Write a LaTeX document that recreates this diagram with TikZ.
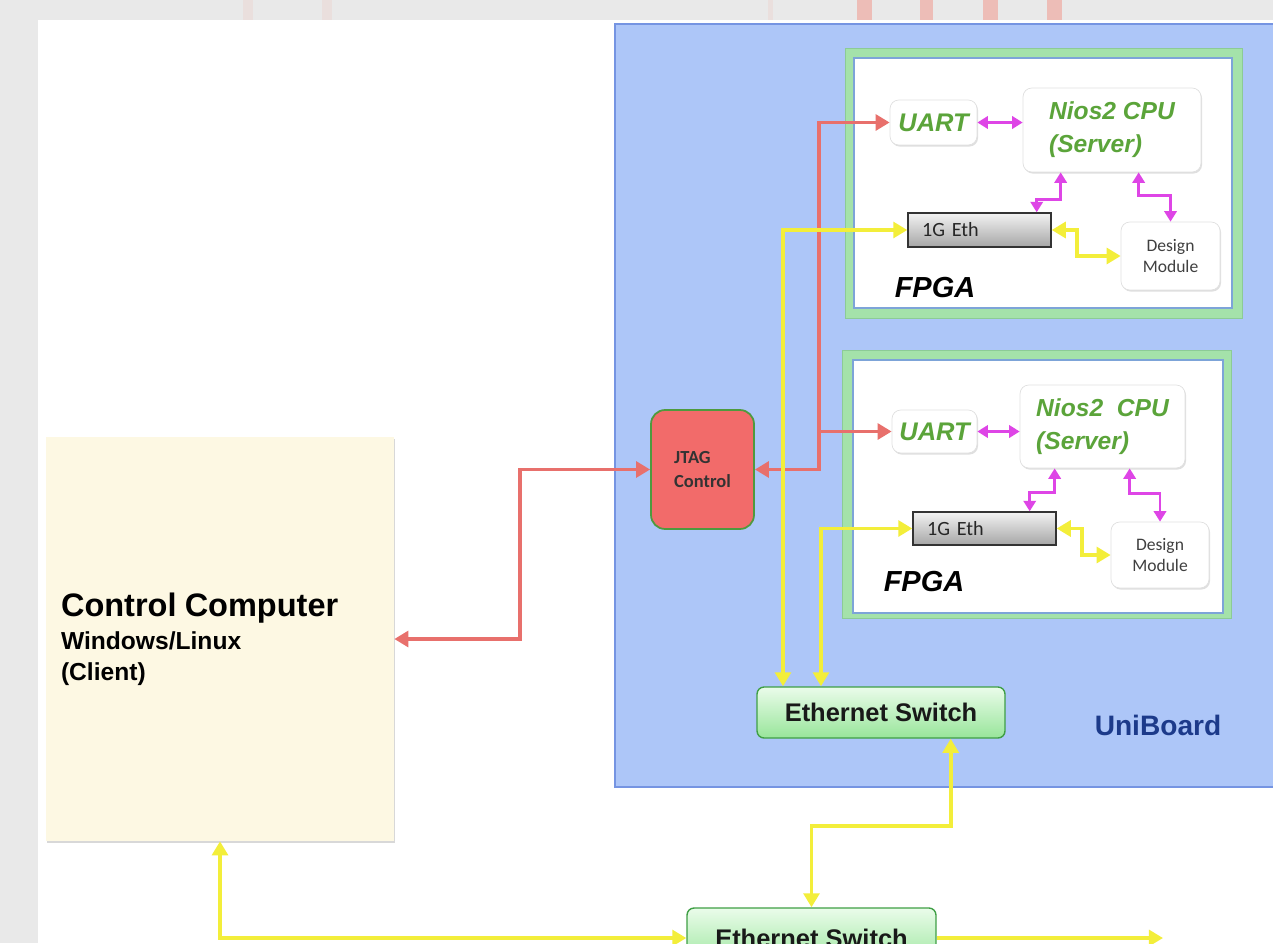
\documentclass[tikz,border=0pt]{standalone}
\usepackage{fontspec}
\setmainfont{Liberation Sans}
\newfontfamily\calfont{Carlito}
\usetikzlibrary{arrows.meta,shadows}
\definecolor{pagegray}{HTML}{E9E9E9}
\definecolor{boardblue}{HTML}{ADC6F8}
\definecolor{boardedge}{HTML}{7594E2}
\definecolor{fpgagreen}{HTML}{A4E2AA}
\definecolor{fpgaedge}{HTML}{8CCB96}
\definecolor{inneredge}{HTML}{7DA4D8}
\definecolor{linkred}{HTML}{E8706C}
\definecolor{linkmag}{HTML}{DE45E6}
\definecolor{linkyel}{HTML}{F3EE3A}
\definecolor{jtagred}{HTML}{F26B6A}
\definecolor{jtagedge}{HTML}{4E9A3E}
\definecolor{niosgreen}{HTML}{5BA43A}
\definecolor{swtop}{HTML}{EAFCEA}
\definecolor{swbot}{HTML}{98E59A}
\definecolor{swedge}{HTML}{3F9F45}
\definecolor{pccream}{HTML}{FDF8E3}
\definecolor{uniblue}{HTML}{1C3A8A}
\definecolor{bleedpink}{HTML}{EDBDB7}
\definecolor{bleedfaint}{HTML}{EADFDD}
\begin{document}
\begin{tikzpicture}[x=0.02cm,y=-0.02cm,
    every node/.style={inner sep=0pt},
    whitebox/.style={draw=black!12,fill=white,rounded corners=5pt,
      drop shadow={opacity=0.25,shadow xshift=0.6pt,shadow yshift=-0.9pt}},
    cpubox/.style={whitebox,font=\fontsize{14}{18.7}\selectfont\bfseries\itshape,text=niosgreen,align=left},
    ethbox/.style={draw=black!80,line width=0.8pt,top color=black!5,bottom color=black!35,
      font=\calfont\fontsize{11.5}{13}\selectfont,text=black!85,align=left,
      text width=2.3cm,inner xsep=0.28cm,minimum width=2.86cm},
    dmbox/.style={whitebox,font=\calfont\fontsize{10}{12}\selectfont,text=black!75,align=center},
    swbox/.style={draw=swedge,line width=0.8pt,rounded corners=4pt,top color=swtop,bottom color=swbot,
      font=\fontsize{14.5}{17}\selectfont\bfseries,text=black!90},
    jtagbox/.style={draw=jtagedge,line width=1pt,fill=jtagred,rounded corners=8pt,
      font=\calfont\bfseries\fontsize{10.5}{13.6}\selectfont,text=black!80,align=left},
    pcbox/.style={fill=pccream,drop shadow={opacity=0.3,shadow xshift=0.8pt,shadow yshift=-1.2pt},
      font=\fontsize{14}{17.6}\selectfont\bfseries,align=left,text width=6.36cm,inner xsep=0.3cm},
    fpgalabel/.style={font=\fontsize{16.5}{20}\selectfont\bfseries\itshape},
    redlink/.style={draw=linkred,line width=2.2pt,>={Triangle[length=8pt,width=9pt]}},
    yellink/.style={draw=linkyel,line width=2.2pt,>={Triangle[length=8pt,width=9pt]}},
    maglink/.style={draw=linkmag,line width=1.6pt,>={Triangle[length=6pt,width=7pt]}}]
    \useasboundingbox (0,0) rectangle (1273,943);
    \clip (0,0) rectangle (1273,943);
    \fill [pagegray] (0,0) rectangle (1273,943);
    \fill [white] (38,20) rectangle (1273,943);
    \fill [bleedfaint] (243,0) rectangle (253,20);
    \fill [bleedfaint] (322,0) rectangle (332,20);
    \fill [bleedfaint] (768,0) rectangle (773,20);
    \fill [bleedpink] (857,0) rectangle (872,20);
    \fill [bleedpink] (920,0) rectangle (933,20);
    \fill [bleedpink] (983,0) rectangle (998,20);
    \fill [bleedpink] (1047,0) rectangle (1062,20);
    \draw [fill=boardblue,draw=boardedge,line width=1pt] (615,24) rectangle (1300,787);
    \draw [fill=fpgagreen,draw=fpgaedge] (845,48) rectangle (1242,318);
    \draw [fill=white,draw=inneredge,line width=0.6pt] (854,58) rectangle (1232,308);
    \draw [fill=fpgagreen,draw=fpgaedge] (842,350) rectangle (1231,618);
    \draw [fill=white,draw=inneredge,line width=0.6pt] (853,360) rectangle (1223,613);
    \node [pcbox,minimum height=8.08cm] (pc) at (220,639)
      {{\fontsize{18.5}{22}\selectfont Control Computer}\\[1pt]Windows/Linux\\(Client)};
    \node [jtagbox,minimum width=2.06cm,minimum height=2.38cm] (jtag) at (702.5,469.5) {JTAG\\Control};
    \node [whitebox,minimum width=1.74cm,minimum height=0.9cm,font=\fontsize{14.5}{17}\selectfont\bfseries\itshape,text=niosgreen] (uart1) at (933.5,122.5) {UART};
    \node [cpubox,minimum width=3.56cm,minimum height=1.68cm] (nios1) at (1112,130) {Nios2 CPU\\(Server)};
    \node [ethbox,minimum height=0.68cm] (eth1) at (979.5,230) {1G Eth};
    \node [dmbox,minimum width=1.98cm,minimum height=1.36cm] (dm1) at (1170.5,256) {Design\\Module};
    \node [fpgalabel] (fpga1) at (935,288) {FPGA};
    \node [whitebox,minimum width=1.7cm,minimum height=0.86cm,font=\fontsize{14.5}{17}\selectfont\bfseries\itshape,text=niosgreen] (uart2) at (934.5,431.5) {UART};
    \node [cpubox,minimum width=3.3cm,minimum height=1.66cm] (nios2) at (1102.5,426.5) {Nios2\ \ CPU\\(Server)};
    \node [ethbox,minimum height=0.66cm] (eth2) at (984.5,528.5) {1G Eth};
    \node [dmbox,minimum width=1.96cm,minimum height=1.32cm] (dm2) at (1160,555) {Design\\Module};
    \node [fpgalabel] (fpga2) at (924,582) {FPGA};
    \node [swbox,minimum width=4.96cm,minimum height=1.02cm] (esw1) at (881,712.5) {Ethernet Switch};
    \node [font=\fontsize{16}{19}\selectfont\bfseries,text=uniblue] (unilbl) at (1158,725) {UniBoard};
    \node [swbox,minimum width=4.98cm,minimum height=1.2cm] (esw2) at (811.5,938) {Ethernet Switch};
    \coordinate (rbus) at (818.5,0);
    \coordinate (ybusA) at (783,0);
    \coordinate (ybusB) at (821,0);
    \coordinate (lanout) at (1163,938);
    \draw [redlink,<->] (pc.east) -- ++(126,0) |- (jtag.west);
    \draw [redlink,<->] (jtag.east) -- ++(64,0) |- (uart1.west);
    \draw [redlink,->] (rbus |- uart2.west) -- (uart2.west);
    \draw [yellink,<->] (eth1.west) -| (ybusA |- esw1.north);
    \draw [yellink,<->] (eth2.west) -| (ybusB |- esw1.north);
    \draw [yellink,<->] ([xshift=-1.1cm]esw1.south east) -- ++(0,87) -| (esw2.north);
    \draw [yellink,<->] (pc.south) |- (esw2.west);
    \draw [yellink,->] (esw2.east) -- (lanout);
    \draw [maglink,<->] (uart1.east) -- (uart1.east -| nios1.west);
    \draw [maglink,<->] ([xshift=-0.3cm]eth1.north east) -- ++(0,-13) -| ([xshift=0.76cm]nios1.south west);
    \draw [maglink,<->] ([xshift=2.32cm]nios1.south west) -- ++(0,23) -| (dm1.north);
    \draw [yellink,<->] (eth1.east) -- ++(25,0) |- (dm1.west);
    \draw [maglink,<->] (uart2.east) -- (uart2.east -| nios2.west);
    \draw [maglink,<->] ([xshift=-0.54cm]eth2.north east) -- ++(0,-19) -| ([xshift=0.7cm]nios2.south west);
    \draw [maglink,<->] ([xshift=2.2cm]nios2.south west) -- ++(0,25) -| (dm2.north);
    \draw [yellink,<->] (eth2.east) -- ++(25,0) |- (dm2.west);
\end{tikzpicture}
\end{document}
